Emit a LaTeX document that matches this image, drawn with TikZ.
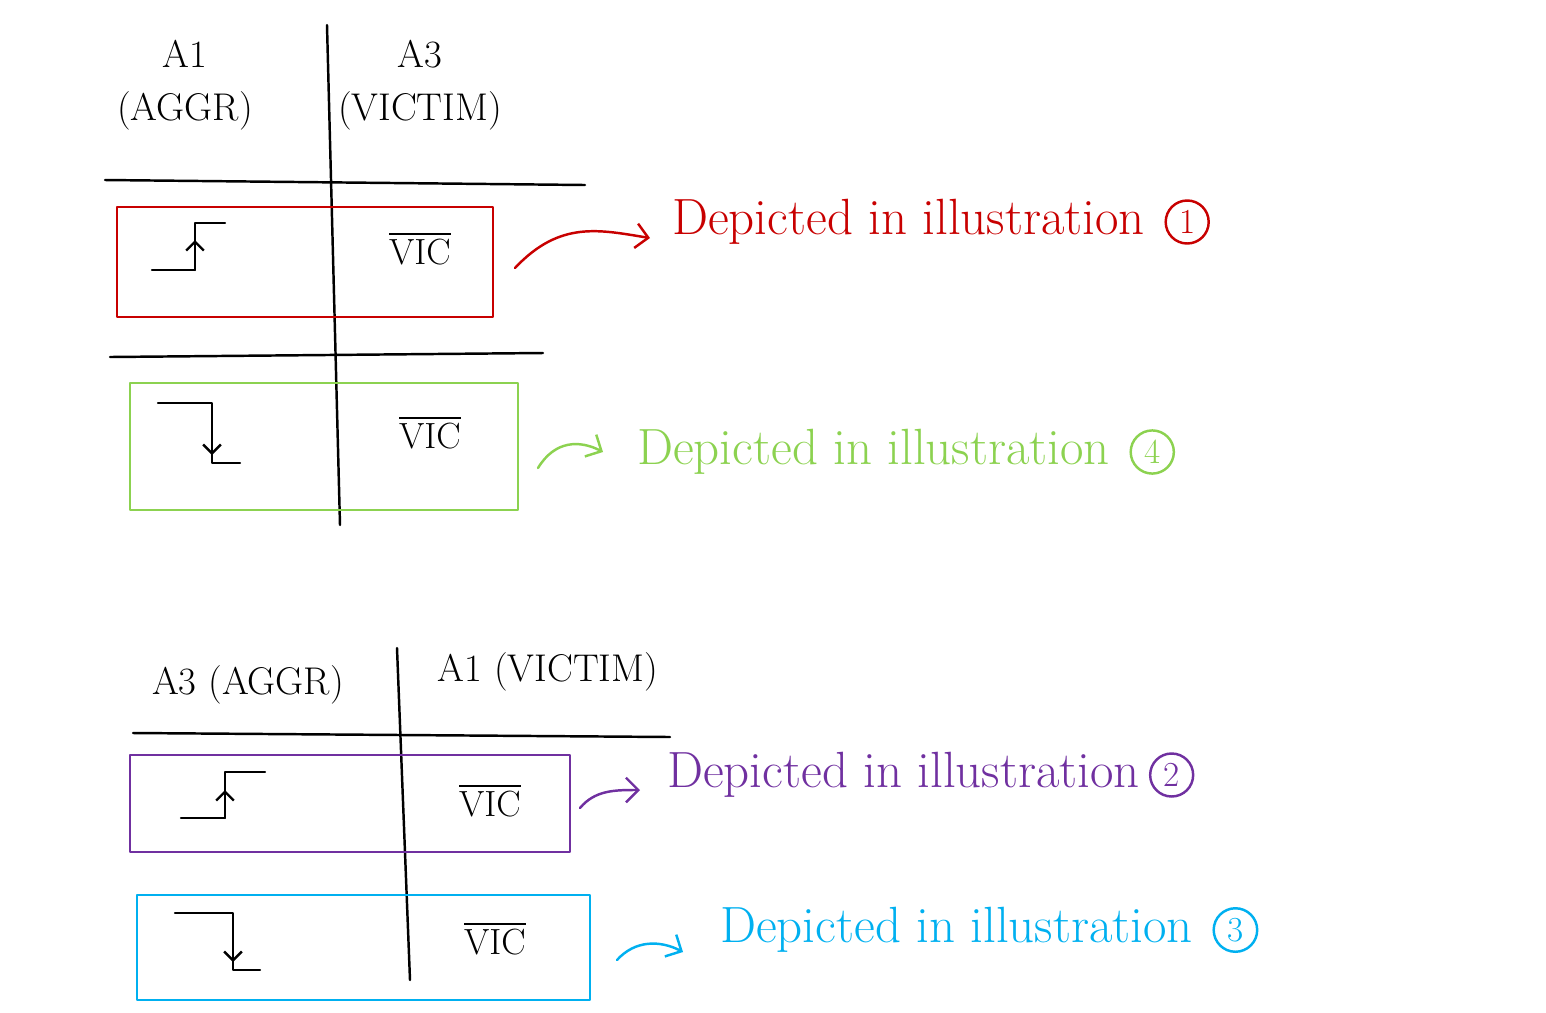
\documentclass[tikz,border=0pt]{standalone}
\usepackage{tikz}
\usepackage{amsmath}
\usetikzlibrary{positioning}
\usetikzlibrary{arrows.meta}
\definecolor{cred}{RGB}{200,0,0}
\definecolor{cgreen}{RGB}{140,210,80}
\definecolor{cpurple}{RGB}{112,48,160}
\definecolor{cblue}{RGB}{0,176,240}
\tikzset{
 pen/.style={line width=1.4pt,line cap=round,line join=round},
 hand/.style={font=\fontsize{22}{30}\selectfont},
 note/.style={font=\fontsize{29}{32}\selectfont,anchor=west,inner sep=1pt},
 num/.style={draw,circle,line width=1.4pt,inner sep=3pt,font=\fontsize{20}{22}\selectfont},
 link/.style={pen,-{Straight Barb[length=7pt]}},
}
\begin{document}
\begin{tikzpicture}[x=0.02cm,y=-0.02cm]
 \useasboundingbox (0,0) rectangle (1546,1012);
 % top table
 \draw [pen](327,25)--(340,525);
 \node [hand,align=center](h1) at (185,85) {A1\\(AGGR)};
 \node [hand,align=center](h3) at (420,85) {A3\\(VICTIM)};
 \draw [pen](105,180)--(585,185);
 \draw [pen,cred](117,207) rectangle (493,317);
 \draw [pen](152,270)--(195,270)--(195,223)--(225,223);
 \draw [pen,-{Straight Barb[length=5pt]}](195,270)--(195,240);
 \node [hand](v1) at (420,248) {$\overline{\mathrm{VIC}}$};
 \coordinate (s1) at (515,268);
 \coordinate (e1) at (650,238);
 \node [note,cred](t1) at (670,222) {Depicted in illustration};
 \node [num,cred,right=10pt of t1](n1) {1};
 \draw [link,cred](s1) .. controls (560,220) and (600,230) .. (e1);
 \draw [pen](110,357)--(543,353);
 \draw [pen,cgreen](130,383) rectangle (518,510);
 \draw [pen](158,403)--(212,403)--(212,463)--(240,463);
 \draw [pen,-{Straight Barb[length=5pt]}](212,425)--(212,455);
 \node [hand](v4) at (430,432) {$\overline{\mathrm{VIC}}$};
 \coordinate (s4) at (538,468);
 \coordinate (e4) at (603,452);
 \node [note,cgreen](t4) at (635,452) {Depicted in illustration};
 \node [num,cgreen,right=10pt of t4](n4) {4};
 \draw [link,cgreen](s4) .. controls (555,440) and (580,440) .. (e4);
 % bottom table
 \draw [pen](397,648)--(410,980);
 \node [hand](h5) at (248,685) {A3 (AGGR)};
 \node [hand](h6) at (548,672) {A1 (VICTIM)};
 \draw [pen](133,733)--(670,737);
 \draw [pen,cpurple](130,755) rectangle (570,852);
 \draw [pen](181,818)--(225,818)--(225,772)--(265,772);
 \draw [pen,-{Straight Barb[length=5pt]}](225,818)--(225,790);
 \node [hand](v2) at (490,800) {$\overline{\mathrm{VIC}}$};
 \coordinate (s2) at (580,808);
 \coordinate (e2) at (640,790);
 \node [note,cpurple](t2) at (665,775) {Depicted in illustration};
 \node [num,cpurple,right=4pt of t2](n2) {2};
 \draw [link,cpurple](s2) .. controls (595,790) and (615,790) .. (e2);
 \draw [pen,cblue](137,895) rectangle (590,1000);
 \draw [pen](175,913)--(233,913)--(233,970)--(260,970);
 \draw [pen,-{Straight Barb[length=5pt]}](233,935)--(233,962);
 \node [hand](v3) at (495,938) {$\overline{\mathrm{VIC}}$};
 \coordinate (s3) at (617,960);
 \coordinate (e3) at (683,952);
 \node [note,cblue](t3) at (718,930) {Depicted in illustration};
 \node [num,cblue,right=10pt of t3](n3) {3};
 \draw [link,cblue](s3) .. controls (635,940) and (660,940) .. (e3);
\end{tikzpicture}
\end{document}
